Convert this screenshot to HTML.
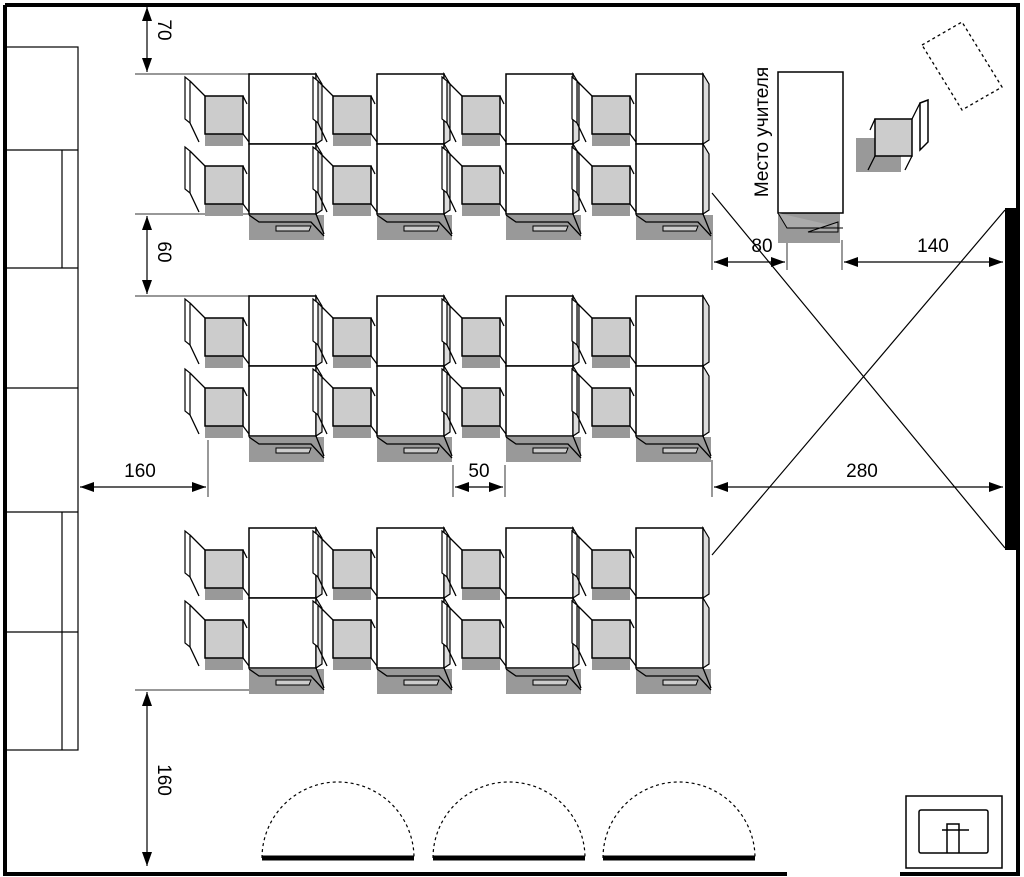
<!DOCTYPE html>
<html><head><meta charset="utf-8"><style>
html,body{margin:0;padding:0;background:#fff;}
svg{display:block;}
text{font-family:"Liberation Sans","DejaVu Sans",sans-serif;font-size:19px;fill:#000;}
</style></head><body>
<svg id="s" width="1024" height="877" viewBox="0 0 1024 877" xmlns="http://www.w3.org/2000/svg">
<g id="g" stroke="#000" stroke-width="1.5" fill="none">
<path d="M5,5 H1018 V874 H900 M787,874 H5 V5" stroke-width="4"/>
<rect x="1005" y="208" width="13" height="342" fill="#000" stroke="none"/>
<rect x="5" y="47" width="73" height="703" stroke-width="1.2"/>
<path d="M5,150H78 M5,268H78 M5,388H78 M5,512H78 M5,632H78 M62,150V268 M62,512V750" stroke-width="1.2"/>
<path d="M712,193 L1005,548 M712,555 L1005,210" stroke-width="1.2"/>
<path d="M135,74H250 M135,214H250 M135,296H250 M135,690H250" stroke="#777" stroke-width="1.5"/>
<path d="M208,440V497 M453,465V497 M505,465V497 M712,460V497 M712,215V270 M787,240V270 M842,240V270" stroke="#555" stroke-width="1.2"/>
<path d="M147,7V72 M147,216V294 M147,692V866 M80,487H206 M455,487H503 M714,487H1003 M714,262H785 M844,262H1003" stroke-width="1.2"/>
<rect x="778" y="213" width="62" height="30" fill="#999" stroke="none"/>
<rect x="778" y="72" width="65" height="141" fill="#fff"/>
<path d="M778,213 L787,228 H843 M808,232 L838,222 V232 Z" fill="#aaa" stroke-width="1"/>
<rect x="856" y="138" width="45" height="34" fill="#999" stroke="none"/>
<rect x="875" y="119" width="37" height="37" fill="#ccc"/>
<path d="M912,119 L920,103 M912,156 L905,170 M875,156 L868,170 M875,119 L870,130" stroke-width="1.3"/>
<polygon points="920,103 928,100 928,142 920,150" fill="#fff"/>
<polygon points="922,45 962,22 1002,87 962,110" stroke-dasharray="3,3" stroke-width="1.3"/>
<path d="M262,858 A76,76 0 0 1 414,858 M433,858 A76,76 0 0 1 585,858 M603,858 A76,76 0 0 1 755,858" stroke-dasharray="3,3" stroke-width="1.2"/>
<path d="M262,858H414 M433,858H585 M603,858H755" stroke-width="5"/>
<rect x="906" y="796" width="96" height="72" stroke-width="1.5"/>
<rect x="919" y="810" width="69" height="43" rx="2" stroke-width="1.5"/>
<path d="M947,853V824H959V853 M942,830H969" stroke-width="1.5"/>
</g>
<text x="148" y="40" transform="rotate(90 158 40)" text-anchor="middle">70</text>
<text x="148" y="262" transform="rotate(90 158 262)" text-anchor="middle">60</text>
<text x="148" y="790" transform="rotate(90 158 790)" text-anchor="middle">160</text>
<text x="140" y="477" text-anchor="middle">160</text>
<text x="479" y="477" text-anchor="middle">50</text>
<text x="862" y="477" text-anchor="middle">280</text>
<text x="762" y="252" text-anchor="middle">80</text>
<text x="933" y="252" text-anchor="middle">140</text>
<text x="768" y="132" transform="rotate(-90 768 132)" text-anchor="middle">Место учителя</text>
</svg>
<script>
var g=document.getElementById('g'),NS='http://www.w3.org/2000/svg';
function el(t,a){var e=document.createElementNS(NS,t);for(var k in a)e.setAttribute(k,a[k]);g.appendChild(e);return e;}
function ah(x,y,dx,dy){var L=14,W=5,px=-dy,py=dx;
 el('polygon',{points:x+','+y+' '+(x-dx*L+px*W)+','+(y-dy*L+py*W)+' '+(x-dx*L-px*W)+','+(y-dy*L-py*W),fill:'#000',stroke:'none'});}
function dimV(x,y1,y2){ah(x,y1,0,-1);ah(x,y2,0,1);}
function dimH(y,x1,x2){ah(x1,y,-1,0);ah(x2,y,1,0);}
dimV(147,7,72);dimV(147,216,294);dimV(147,692,866);
dimH(487,80,206);dimH(487,455,503);dimH(487,714,1003);dimH(262,714,785);dimH(262,844,1003);
var cols=[249,377,506,636],rows=[74,296,528];
rows.forEach(function(R){
 cols.forEach(function(D){
  el('rect',{x:D,y:R+141,width:75,height:25,fill:'#999',stroke:'none'});
  el('path',{d:'M'+D+','+(R+141)+' L'+(D+10)+','+(R+148)+' H'+(D+62)+' L'+(D+75)+','+(R+162),'stroke-width':1.3});
  el('polygon',{points:(D+27)+','+(R+152)+' '+(D+62)+','+(R+152)+' '+(D+60)+','+(R+157)+' '+(D+27)+','+(R+157),fill:'#ccc','stroke-width':1});
  for(var h=0;h<2;h++){
   var T=R+h*70;
   el('rect',{x:D-44,y:T+60,width:38,height:12,fill:'#999',stroke:'none'});
   el('rect',{x:D-44,y:T+22,width:38,height:38,fill:'#ccc'});
   el('polygon',{points:(D-64)+','+(T+3)+' '+(D-59)+','+(T+7)+' '+(D-59)+','+(T+49)+' '+(D-64)+','+(T+45),fill:'#fff','stroke-width':1.2});
   el('path',{d:'M'+(D-59)+','+(T+7)+' L'+(D-44)+','+(T+22)+' M'+(D-59)+','+(T+49)+' L'+(D-50)+','+(T+68)+' M'+(D-6)+','+(T+22)+' L'+(D-2)+','+(T+30)+' M'+(D-6)+','+(T+60)+' L'+(D)+','+(T+68),'stroke-width':1.3});
   el('rect',{x:D,y:T,width:67,height:70,fill:'#fff'});
   el('polygon',{points:(D+67)+','+T+' '+(D+73)+','+(T+10)+' '+(D+73)+','+(T+66)+' '+(D+67)+','+(T+70),fill:'#ddd','stroke-width':1.2});
  }
  el('path',{d:'M'+(D+67)+','+(R+140)+' L'+(D+75)+','+(R+160),'stroke-width':1.3});
 });
});
</script>
</body></html>
